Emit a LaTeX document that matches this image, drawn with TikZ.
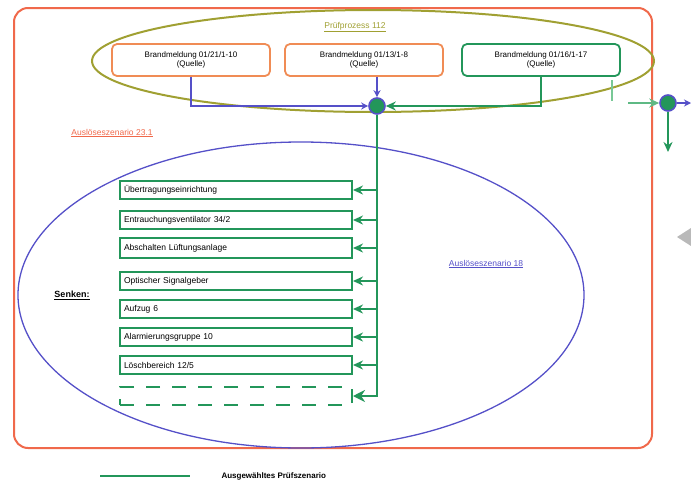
\documentclass[tikz,border=0pt]{standalone}
\usepackage{fontspec}
\setmainfont{Liberation Sans}
\usetikzlibrary{arrows,arrows.meta,shapes,positioning,calc}

\definecolor{frameRed}{RGB}{240,105,75}
\definecolor{srcOrange}{RGB}{240,140,85}
\definecolor{olivePG}{RGB}{160,160,50}
\definecolor{gGreen}{RGB}{35,150,90}
\definecolor{lGreen}{RGB}{120,200,150}
\definecolor{bBlue}{RGB}{85,80,200}

\begin{document}
\begin{tikzpicture}[
    x=1pt,y=-1pt,
    src/.style={rectangle,draw=srcOrange,line width=1.8pt,rounded corners=5pt,minimum width=158pt,minimum height=32pt,align=center,fill=white,font=\fontsize{8}{9.5}\selectfont},
    srcgreen/.style={src,draw=gGreen},
    sinkbox/.style={rectangle,draw=gGreen,line width=2pt,minimum width=232pt,minimum height=18pt,text width=224pt,align=left,inner sep=3pt,font=\fontsize{8.5}{9.5}\selectfont},
    sinkdash/.style={sinkbox,dash pattern=on 14pt off 12pt},
    junc/.style={circle,draw=bBlue,fill=gGreen,line width=1.6pt,minimum size=16pt,inner sep=0pt},
    barrow/.style={draw=bBlue,line width=1.6pt,-{Stealth[length=7pt,width=7pt]}},
    garrow/.style={draw=gGreen,line width=2pt,-{Stealth[length=10pt,width=9pt]}},
    trunk/.style={draw=gGreen,line width=2.8pt,-{Stealth[length=12pt,width=12pt]}},
    lbl/.style={font=\fontsize{8.5}{9.5}\selectfont}
]
    \useasboundingbox (0,0) rectangle (691,485);

    % groups
    \node[draw=frameRed,line width=2pt,rounded corners=14pt,minimum width=638pt,minimum height=440pt] (scen) at (333,228) {};
    \node[ellipse,draw=olivePG,line width=2pt,minimum width=562pt,minimum height=102pt] (pg) at (373,61) {};
    \node[ellipse,draw=bBlue,line width=1.3pt,minimum width=566pt,minimum height=306pt] (as18) at (301,295) {};

    % labels
    \node[lbl,text=olivePG] (pglabel) at (355,27) {\underline{Prüfprozess 112}};
    \node[lbl,text=frameRed] (scenlabel) at (112,133) {\underline{Auslöseszenario 23.1}};
    \node[lbl,text=bBlue] (as18label) at (486,264) {\underline{Auslöseszenario 18}};
    \node[font=\fontsize{9}{10}\selectfont\bfseries] (senken) at (72,295) {\underline{Senken:}};

    % sources
    \node[src] (bm1) at (191,60) {Brandmeldung 01/21/1-10\\(Quelle)};
    \node[src] (bm2) at (364,60) {Brandmeldung 01/13/1-8\\(Quelle)};
    \node[srcgreen] (bm3) at (541,60) {Brandmeldung 01/16/1-17\\(Quelle)};

    \node[junc] (j1) at (377,106) {};

    % sinks
    \node[sinkbox] (s1) at (236,190) {Übertragungseinrichtung};
    \node[sinkbox] (s2) at (236,220) {Entrauchungsventilator 34/2};
    \node[sinkbox,minimum height=20pt] (s3) at (236,248) {Abschalten Lüftungsanlage};
    \node[sinkbox] (s4) at (236,281) {Optischer Signalgeber};
    \node[sinkbox] (s5) at (236,309) {Aufzug 6};
    \node[sinkbox] (s6) at (236,337) {Alarmierungsgruppe 10};
    \node[sinkbox] (s7) at (236,365) {Löschbereich 12/5};
    \node[sinkdash] (s8) at (236,396) {};

    % connections to junction
    \draw[barrow] (bm1.south) |- (j1.west);
    \draw[barrow] (bm2.south -| j1) -- (j1.north);
    \draw[garrow,line width=2.6pt] (bm3.south) |- (j1.east);

    % trunk to sinks
    \draw[trunk] (j1.south) |- (s8.east);
    \draw[garrow] (s1.east -| j1) -- (s1.east);
    \draw[garrow] (s2.east -| j1) -- (s2.east);
    \draw[garrow] (s3.east -| j1) -- (s3.east);
    \draw[garrow] (s4.east -| j1) -- (s4.east);
    \draw[garrow] (s5.east -| j1) -- (s5.east);
    \draw[garrow] (s6.east -| j1) -- (s6.east);
    \draw[garrow] (s7.east -| j1) -- (s7.east);

    % outer junction
    \node[junc] (j2) at (668,103) {};
    \coordinate (stubtop) at (612,80);
    \coordinate (stubbot) at (612,101);
    \coordinate (in2) at (628,103);
    \coordinate (out2) at (691,103);
    \coordinate (down2) at (668,152);
    \draw[lGreen,line width=1.4pt] (stubtop) -- (stubbot);
    \draw[garrow,draw=lGreen!70!gGreen] (in2) -- (j2.west);
    \draw[barrow] (j2.east) -- (out2);
    \draw[garrow] (j2.south) -- (down2);

    % navigation marker
    \fill[gray!55] (677,237) -- (691,228) -- (691,246) -- cycle;

    % legend
    \coordinate (lg1) at (100,476);
    \coordinate (lg2) at (190,476);
    \draw[gGreen,line width=2.8pt] (lg1) -- (lg2);
    \node[anchor=west,font=\fontsize{8}{9}\selectfont\bfseries] (lgtext) at (218,476) {Ausgewähltes Prüfszenario};
\end{tikzpicture}
\end{document}
